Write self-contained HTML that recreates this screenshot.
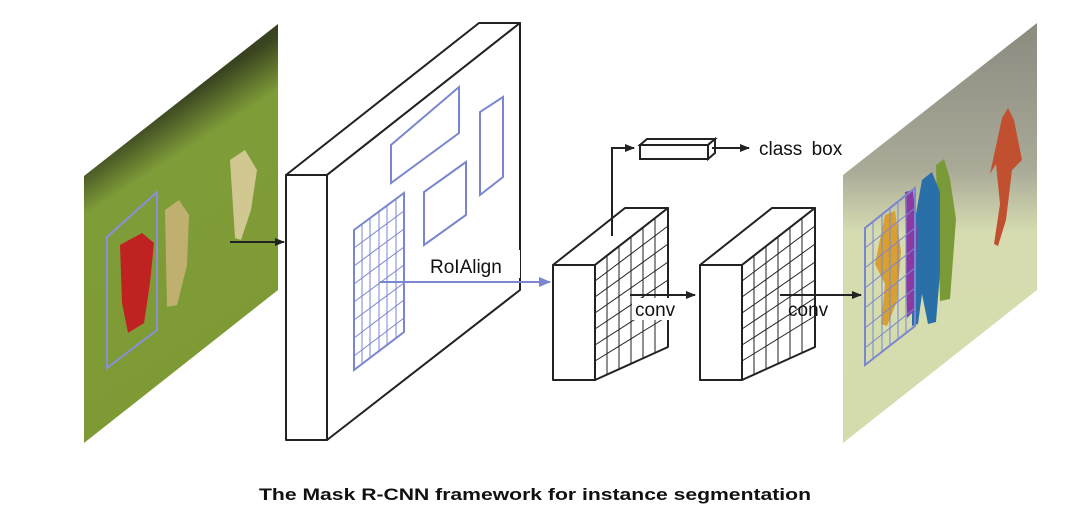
<!DOCTYPE html>
<html><head><meta charset="utf-8"><style>
html,body{margin:0;padding:0;background:#fff;width:1090px;height:518px;overflow:hidden}
svg{display:block}
</style></head><body>
<svg width="1090" height="518" viewBox="0 0 1090 518" xmlns="http://www.w3.org/2000/svg" font-family="Liberation Sans, sans-serif">
<defs>
<linearGradient id="lg" x1="0" y1="0" x2="0.3" y2="1">
<stop offset="0" stop-color="#1e2214"/><stop offset="0.3" stop-color="#3a4420"/><stop offset="0.42" stop-color="#7e9c38"/><stop offset="1" stop-color="#7e9a34"/>
</linearGradient>
<linearGradient id="rg" x1="0" y1="0" x2="0" y2="1">
<stop offset="0" stop-color="#8a8a80"/><stop offset="0.35" stop-color="#aaaa98"/><stop offset="0.5" stop-color="#d6dcb0"/><stop offset="1" stop-color="#d4dbab"/>
</linearGradient>
<marker id="ah" markerWidth="10" markerHeight="8" refX="9" refY="4" orient="auto" markerUnits="userSpaceOnUse"><path d="M0,0 L10,4 L0,8 Z" fill="#222"/></marker>
<marker id="ahb" markerWidth="12" markerHeight="10" refX="11" refY="5" orient="auto" markerUnits="userSpaceOnUse"><path d="M0,0 L12,5 L0,10 Z" fill="#7b86d0"/></marker>
</defs>
<!-- left image -->
<polygon points="84,176 278,24 278,290 84,443" fill="url(#lg)"/>
<path d="M120,245 l22,-12 l12,10 l-4,40 l-6,40 l-16,10 l-6,-30 z" fill="#c02222"/>
<path d="M165,210 l14,-10 l10,15 l-2,50 l-10,40 l-10,2 z" fill="#c0b070"/>
<path d="M230,160 l15,-10 l12,20 l-6,40 l-10,30 l-6,-2 z" fill="#d0c890"/>
<polygon points="107,368 107,237 157,192 157,330" fill="none" stroke="#8a8fd8" stroke-width="2"/>
<!-- arrow img -> block -->
<line x1="230" y1="242" x2="284" y2="242" stroke="#222" stroke-width="2" marker-end="url(#ah)"/>
<!-- big block -->
<g stroke="#222" stroke-width="2" fill="#fff" stroke-linejoin="round">
<polygon points="286,175 479,23 520,23 327,175"/>
<polygon points="327,175 520,23 520,290 327,440"/>
<rect x="286" y="175" width="41" height="265"/>
</g>
<g stroke="#7b86d0" stroke-width="2" fill="none">
<polygon points="391,183 391,145 459,87 459,133"/>
<polygon points="424,245 424,192 466,162 466,215"/>
<polygon points="480,195 480,112 503,97 503,177"/>
<polygon points="354,370 354,230 404,193 404,332"/>
</g>
<g stroke="#7b86d0" stroke-width="1">
<line x1="362" y1="224" x2="362" y2="364"/><line x1="370" y1="218" x2="370" y2="358"/><line x1="379" y1="212" x2="379" y2="351"/><line x1="387" y1="206" x2="387" y2="345"/><line x1="396" y1="199" x2="396" y2="338"/>
<line x1="354" y1="248" x2="404" y2="211"/><line x1="354" y1="266" x2="404" y2="229"/><line x1="354" y1="284" x2="404" y2="247"/><line x1="354" y1="302" x2="404" y2="265"/><line x1="354" y1="320" x2="404" y2="283"/><line x1="354" y1="338" x2="404" y2="300"/><line x1="354" y1="356" x2="404" y2="318"/>
</g>
<rect x="424" y="250" width="96" height="28" fill="#fff"/>
<text x="430" y="273" font-size="19" fill="#111">RoIAlign</text>
<line x1="380" y1="282" x2="550" y2="282" stroke="#7b86d0" stroke-width="2" marker-end="url(#ahb)"/>
<!-- small blocks -->
<g id="blk">
<g stroke="#222" stroke-width="2" fill="#fff" stroke-linejoin="round">
<polygon points="553,265 625,208 668,208 595,265"/>
<polygon points="595,265 668,208 668,347 595,380"/>
<rect x="553" y="265" width="42" height="115"/>
</g>
<g stroke="#222" stroke-width="1">
<line x1="607" y1="256" x2="607" y2="375"/><line x1="619" y1="246" x2="619" y2="369"/><line x1="631" y1="237" x2="631" y2="364"/><line x1="643" y1="227" x2="643" y2="358"/><line x1="655" y1="218" x2="655" y2="353"/>
<line x1="595" y1="281" x2="668" y2="226"/><line x1="595" y1="297" x2="668" y2="244"/><line x1="595" y1="313" x2="668" y2="262"/><line x1="595" y1="329" x2="668" y2="280"/><line x1="595" y1="345" x2="668" y2="298"/><line x1="595" y1="361" x2="668" y2="316"/>
</g>
</g>
<use href="#blk" x="147" y="0"/>
<!-- branch to class box -->
<polyline points="612,236 612,148 634,148" fill="none" stroke="#222" stroke-width="2" marker-end="url(#ah)"/>
<g stroke="#222" stroke-width="2" fill="#fff">
<polygon points="640,145 647,139 715,139 708,145"/>
<polygon points="708,145 715,139 715,153 708,159"/>
<rect x="640" y="145" width="68" height="14"/>
</g>
<line x1="712" y1="148" x2="749" y2="148" stroke="#222" stroke-width="2" marker-end="url(#ah)"/>
<text x="759" y="155" font-size="19" fill="#111" word-spacing="4">class box</text>
<!-- conv arrow 1 -->
<rect x="632" y="298" width="50" height="22" fill="#fff"/>
<line x1="630" y1="295" x2="695" y2="295" stroke="#222" stroke-width="2" marker-end="url(#ah)"/>
<text x="635" y="316" font-size="19" fill="#111">conv</text>
<!-- right image -->
<polygon points="843,175 1037,23 1037,290 843,443" fill="url(#rg)"/>
<path d="M1002,118 l6,-10 l6,12 l8,40 l-10,10 l-6,50 l-8,26 l-4,-2 l6,-40 l-4,-40 l-6,10 z" fill="#c05030"/>
<path d="M936,165 l8,-6 l6,20 l6,40 l-6,80 l-10,2 z" fill="#7a9a38"/>
<path d="M922,180 l10,-8 l8,20 l0,80 l-4,50 l-8,2 l-6,-30 l-4,30 l-6,2 l0,-90 z" fill="#2a70a8"/>
<path d="M905,192 l8,-2 l4,40 l-2,80 l-8,8 z" fill="#8a3aa0"/>
<path d="M885,215 l10,-4 l6,40 l-4,50 l-10,25 l-6,-2 l4,-40 l-10,-20 z" fill="#d8a030"/>
<polygon points="865,365 865,228 915,188 915,326" fill="none" stroke="#7b86d0" stroke-width="2"/>
<g stroke="#7b86d0" stroke-width="1">
<line x1="873" y1="222" x2="873" y2="359"/><line x1="882" y1="214" x2="882" y2="352"/><line x1="890" y1="208" x2="890" y2="346"/><line x1="898" y1="201" x2="898" y2="339"/><line x1="906" y1="195" x2="906" y2="333"/>
<line x1="865" y1="248" x2="915" y2="208"/><line x1="865" y1="268" x2="915" y2="228"/><line x1="865" y1="288" x2="915" y2="248"/><line x1="865" y1="308" x2="915" y2="268"/><line x1="865" y1="328" x2="915" y2="288"/><line x1="865" y1="348" x2="915" y2="308"/>
</g>
<!-- conv arrow 2 (drawn on top of image) -->
<line x1="780" y1="295" x2="861" y2="295" stroke="#222" stroke-width="2" marker-end="url(#ah)"/>
<text x="788" y="316" font-size="19" fill="#111">conv</text>
<!-- caption -->
<text x="535" y="500" font-size="17" font-weight="bold" text-anchor="middle" fill="#111" textLength="552" lengthAdjust="spacingAndGlyphs">The Mask R-CNN framework for instance segmentation</text>
</svg>
</body></html>
